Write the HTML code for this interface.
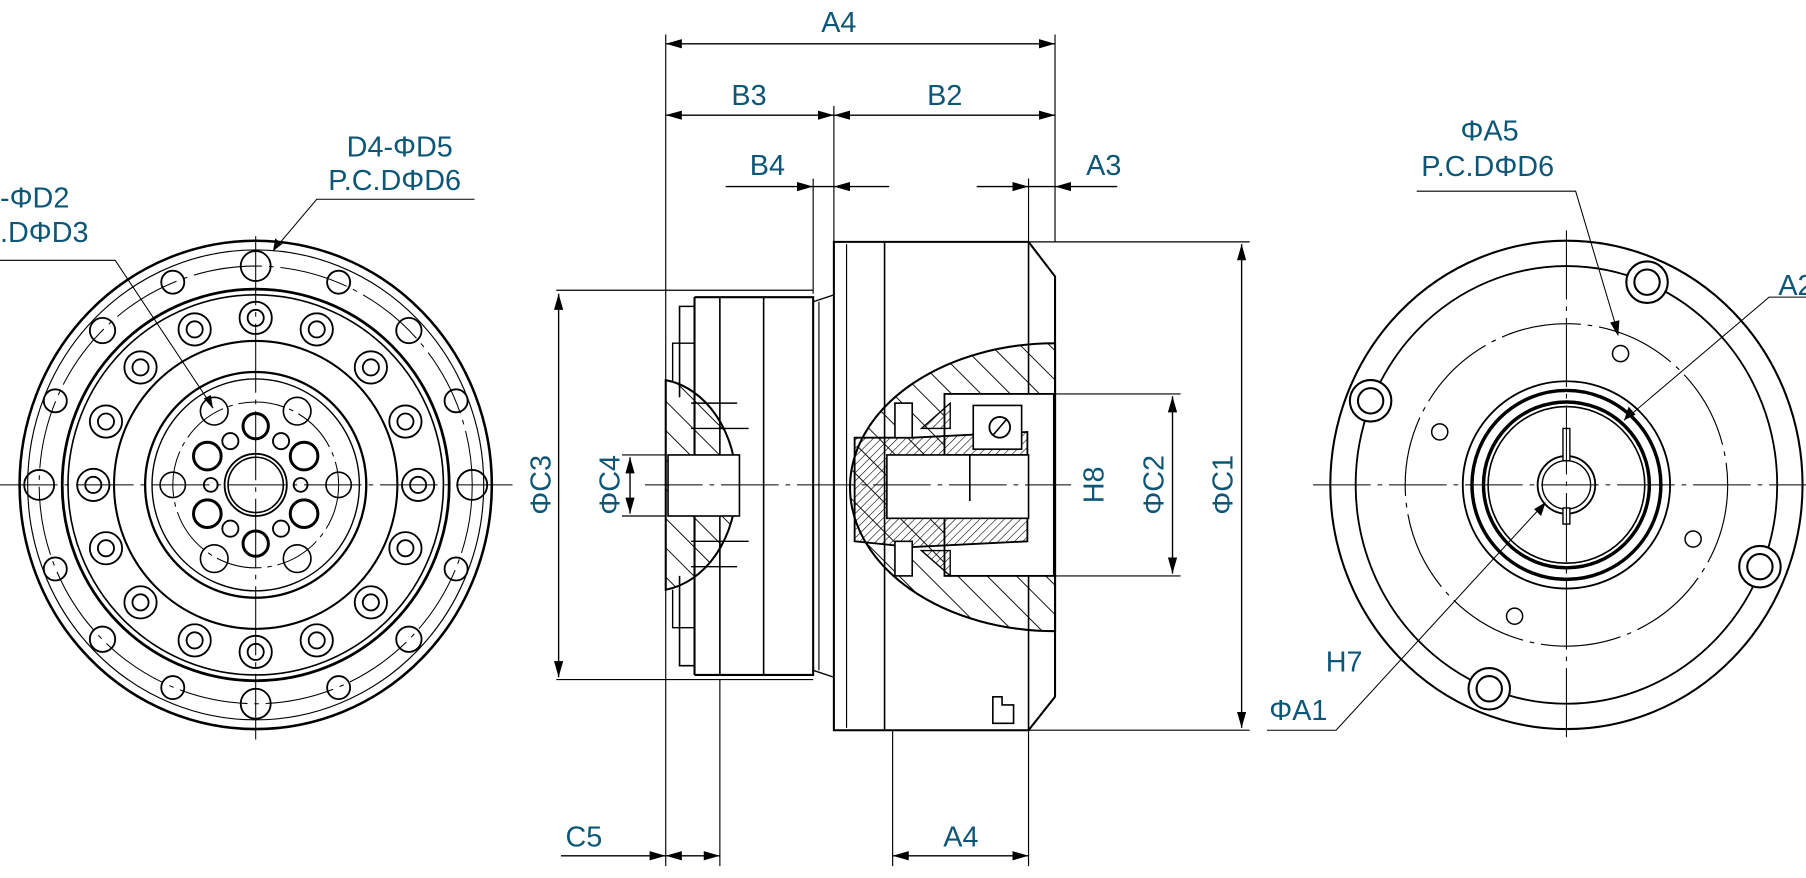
<!DOCTYPE html>
<html><head><meta charset="utf-8"><style>
html,body{margin:0;padding:0;background:#fff;}
svg{display:block}
text{font-family:"Liberation Sans Narrow","Liberation Sans",sans-serif;fill:#0e5676;font-size:25px;}
</style></head><body>
<svg width="1806" height="878" viewBox="0 0 1568 762.3" xmlns="http://www.w3.org/2000/svg">
<defs>
<marker id="ar" viewBox="0 0 10 10" refX="10" refY="5" markerWidth="14" markerHeight="8" markerUnits="userSpaceOnUse" orient="auto-start-reverse" preserveAspectRatio="none"><path d="M0,0L10,5L0,10z" fill="#000"/></marker>
<pattern id="h1" width="18" height="18" patternUnits="userSpaceOnUse" patternTransform="rotate(-45)"><line x1="0" y1="0" x2="0" y2="18" stroke="#000" stroke-width="1.6"/></pattern>
<pattern id="h2" width="5" height="5" patternUnits="userSpaceOnUse" patternTransform="rotate(45)"><line x1="0" y1="0" x2="0" y2="5" stroke="#000" stroke-width="1"/></pattern>
</defs>
<rect width="1568" height="762.3" fill="#fff"/>

<!-- ============ LEFT VIEW ============ -->
<g fill="none" stroke="#000" stroke-width="1.6">
<ellipse cx="222" cy="421" rx="205" ry="212" stroke-width="2.2"/>
<ellipse cx="222" cy="421" rx="198" ry="204" stroke-width="1"/>
<ellipse cx="222" cy="421" rx="188" ry="190" stroke-width="0.9" stroke-dasharray="60 6 4 6"/>
<ellipse cx="222" cy="421" rx="168" ry="170" stroke-width="2.4"/>
<ellipse cx="222" cy="421" rx="163" ry="165" stroke-width="1.4"/>
<ellipse cx="222" cy="421" rx="123" ry="125" stroke-width="1.8"/>
<ellipse cx="222" cy="421" rx="96" ry="98" stroke-width="2"/>
<ellipse cx="222" cy="421" rx="90" ry="92" stroke-width="1.2"/>
<ellipse cx="222" cy="421" rx="72" ry="72" stroke-width="0.9" stroke-dasharray="40 5 4 5"/>
<g stroke-width="1.6">
<circle cx="410" cy="421" r="13"/><circle cx="396" cy="494" r="10"/><circle cx="355" cy="555" r="11"/><circle cx="294" cy="597" r="10"/>
<circle cx="222" cy="611" r="13"/><circle cx="150" cy="597" r="10"/><circle cx="89" cy="555" r="11"/><circle cx="48" cy="494" r="10"/>
<circle cx="34" cy="421" r="13"/><circle cx="48" cy="348" r="10"/><circle cx="89" cy="287" r="11"/><circle cx="150" cy="245" r="10"/>
<circle cx="222" cy="231" r="13"/><circle cx="294" cy="245" r="10"/><circle cx="355" cy="287" r="11"/><circle cx="396" cy="348" r="10"/>
</g>
<g stroke-width="1.6">
<circle cx="363" cy="421" r="14"/><circle cx="363" cy="421" r="7"/>
<circle cx="352" cy="476" r="14"/><circle cx="352" cy="476" r="7"/>
<circle cx="322" cy="523" r="14"/><circle cx="322" cy="523" r="7"/>
<circle cx="275" cy="556" r="14"/><circle cx="275" cy="556" r="7"/>
<circle cx="222" cy="566" r="14"/><circle cx="222" cy="566" r="7"/>
<circle cx="169" cy="556" r="14"/><circle cx="169" cy="556" r="7"/>
<circle cx="122" cy="523" r="14"/><circle cx="122" cy="523" r="7"/>
<circle cx="92" cy="476" r="14"/><circle cx="92" cy="476" r="7"/>
<circle cx="81" cy="421" r="14"/><circle cx="81" cy="421" r="7"/>
<circle cx="92" cy="366" r="14"/><circle cx="92" cy="366" r="7"/>
<circle cx="122" cy="319" r="14"/><circle cx="122" cy="319" r="7"/>
<circle cx="169" cy="286" r="14"/><circle cx="169" cy="286" r="7"/>
<circle cx="222" cy="276" r="14"/><circle cx="222" cy="276" r="7"/>
<circle cx="275" cy="286" r="14"/><circle cx="275" cy="286" r="7"/>
<circle cx="322" cy="319" r="14"/><circle cx="322" cy="319" r="7"/>
<circle cx="352" cy="366" r="14"/><circle cx="352" cy="366" r="7"/>
</g>
<g stroke-width="1.4">
<circle cx="186" cy="357" r="12"/><circle cx="258" cy="357" r="12"/><circle cx="186" cy="485" r="12"/><circle cx="258" cy="485" r="12"/>
<circle cx="150" cy="421" r="11"/><circle cx="294" cy="421" r="11"/>
</g>
<g stroke-width="2.6">
<circle cx="222" cy="370" r="11"/><circle cx="222" cy="472" r="11"/>
<circle cx="180" cy="396" r="12"/><circle cx="264" cy="396" r="12"/><circle cx="180" cy="446" r="12"/><circle cx="264" cy="446" r="12"/>
</g>
<g stroke-width="1.6">
<circle cx="200" cy="383" r="7"/><circle cx="244" cy="383" r="7"/><circle cx="200" cy="459" r="7"/><circle cx="244" cy="459" r="7"/>
<circle cx="183" cy="421" r="6"/><circle cx="261" cy="421" r="6"/>
</g>
<circle cx="222" cy="421" r="27" stroke-width="1.6"/>
<circle cx="222" cy="421" r="24" stroke-width="1.4"/>
</g>
<g stroke="#000" stroke-width="0.9" fill="none">
<line x1="0" y1="421" x2="445" y2="421" stroke-dasharray="50 6 4 6"/>
<line x1="222" y1="205" x2="222" y2="642" stroke-dasharray="60 6 4 6"/>
<polyline points="412,173 275,173 237,218"/>
<polyline points="0,226 100,226 185,354"/>
</g>
<path d="M237,218 l2,-11 l6,5 z" fill="#000"/>
<path d="M185,355 l-8,-9 l6,-3 z" fill="#000"/>
<text x="301" y="136">D4-ΦD5</text>
<text x="285" y="165">P.C.DΦD6</text>
<text x="0" y="180">-ΦD2</text>
<text x="0" y="210">.DΦD3</text>

<!-- ============ MIDDLE VIEW ============ -->
<g stroke="#000" stroke-width="1" fill="none">
<line x1="578" y1="30" x2="578" y2="752"/>
<line x1="916" y1="30" x2="916" y2="210"/>
<line x1="724" y1="92" x2="724" y2="210"/>
<line x1="706" y1="155" x2="706" y2="255"/>
<line x1="893" y1="155" x2="893" y2="210"/>
<line x1="625" y1="590" x2="625" y2="752"/>
<line x1="775" y1="634" x2="775" y2="752"/>
<line x1="893" y1="634" x2="893" y2="752"/>
<line x1="483" y1="252" x2="706" y2="252"/>
<line x1="483" y1="590" x2="706" y2="590"/>
<line x1="893" y1="210" x2="1085" y2="210"/>
<line x1="893" y1="634" x2="1085" y2="634"/>
<line x1="916" y1="342" x2="1025" y2="342"/>
<line x1="916" y1="500" x2="1025" y2="500"/>
<line x1="540" y1="395" x2="578" y2="395"/>
<line x1="540" y1="448" x2="578" y2="448"/>
</g>
<g stroke="#000" stroke-width="1.2" fill="none">
<line x1="578" y1="38" x2="916" y2="38" marker-start="url(#ar)" marker-end="url(#ar)"/>
<line x1="578" y1="100" x2="724" y2="100" marker-start="url(#ar)" marker-end="url(#ar)"/>
<line x1="724" y1="100" x2="916" y2="100" marker-start="url(#ar)" marker-end="url(#ar)"/>
<line x1="630" y1="162" x2="706" y2="162" marker-end="url(#ar)"/>
<line x1="706" y1="162" x2="724" y2="162"/>
<line x1="772" y1="162" x2="724" y2="162" marker-end="url(#ar)"/>
<line x1="848" y1="162" x2="893" y2="162" marker-end="url(#ar)"/>
<line x1="893" y1="162" x2="916" y2="162"/>
<line x1="970" y1="162" x2="916" y2="162" marker-end="url(#ar)"/>
<line x1="485" y1="255" x2="485" y2="588" marker-start="url(#ar)" marker-end="url(#ar)"/>
<line x1="547" y1="397" x2="547" y2="446" marker-start="url(#ar)" marker-end="url(#ar)"/>
<line x1="1018" y1="344" x2="1018" y2="498" marker-start="url(#ar)" marker-end="url(#ar)"/>
<line x1="1078" y1="212" x2="1078" y2="632" marker-start="url(#ar)" marker-end="url(#ar)"/>
<line x1="487" y1="743" x2="578" y2="743" marker-end="url(#ar)"/>
<line x1="578" y1="743" x2="625" y2="743" marker-start="url(#ar)" marker-end="url(#ar)"/>
<line x1="775" y1="743" x2="893" y2="743" marker-start="url(#ar)" marker-end="url(#ar)"/>
</g>

<g stroke="#000" stroke-width="1.8" fill="none">
<path d="M603,258 L706,258 L706,586 L603,586"/>
<line x1="603" y1="258" x2="603" y2="586"/>
<line x1="625" y1="258" x2="625" y2="586" stroke-width="1.4"/>
<line x1="663" y1="258" x2="663" y2="586" stroke-width="1.4"/>
<path d="M706,262 L724,256 M706,582 L724,588" stroke-width="1.2"/>
<line x1="711" y1="262" x2="711" y2="582" stroke-width="1"/>
<path d="M603,266 L590,266 L590,345 M590,500 L590,578 L603,578" stroke-width="1.4"/>
<path d="M603,298 L584,298 L584,332 M584,512 L584,545 L603,545" stroke-width="1.2"/>
<path d="M724,210 L893,210 L916,240 L916,605 L893,634 L724,634 Z"/>
<line x1="768" y1="210" x2="768" y2="634" stroke-width="1.4"/>
<line x1="735" y1="212" x2="735" y2="632" stroke-width="1"/>
<line x1="893" y1="210" x2="893" y2="634" stroke-width="1.4"/>
<path d="M862,605 L870,605 L870,612 L880,612 L880,628 L862,628 Z" stroke-width="1.4"/>
</g>
<path d="M578,330 A72,92 0 0 1 578,512 Z" fill="url(#h1)" stroke="#000" stroke-width="1.8"/>
<rect x="580" y="395" width="62" height="53" fill="#fff" stroke="#000" stroke-width="1.4"/>
<path d="M600,350 L640,350 M600,372 L650,372 M600,470 L650,470 M600,492 L640,492" stroke="#000" stroke-width="1.2"/>
<path d="M916,298 A178,125 0 0 0 916,548 Z" fill="url(#h1)" stroke="#000" stroke-width="1.8"/>
<rect x="820" y="342" width="95" height="158" fill="#fff" stroke="#000" stroke-width="1.6"/>
<path d="M792,380 L892,375 L892,395 L820,395 L790,400 L770,445 L892,445 L892,470 L792,475 L742,470 L742,380 Z" fill="url(#h2)" stroke="#000" stroke-width="1.6"/>
<path d="M770,395 L893,395 L893,450 L770,450 Z" fill="#fff" stroke="#000" stroke-width="1.4"/>
<path d="M800,372 L825,350 L825,372 Z M800,478 L825,500 L825,478 Z" fill="url(#h2)" stroke="#000" stroke-width="1.2"/>
<rect x="777" y="350" width="15" height="30" fill="#fff" stroke="#000" stroke-width="1.4"/>
<rect x="777" y="470" width="15" height="30" fill="#fff" stroke="#000" stroke-width="1.4"/>
<rect x="845" y="352" width="42" height="38" fill="#fff" stroke="#000" stroke-width="1.4"/>
<circle cx="868" cy="371" r="9" fill="none" stroke="#000" stroke-width="1.6"/>
<line x1="862" y1="378" x2="874" y2="364" stroke="#000" stroke-width="1.4"/>
<line x1="842" y1="395" x2="842" y2="435" stroke="#000" stroke-width="1.4"/>
<line x1="560" y1="421" x2="930" y2="421" stroke="#000" stroke-width="0.9" stroke-dasharray="50 6 4 6"/>

<text x="713" y="28">A4</text>
<text x="635" y="91">B3</text>
<text x="805" y="91">B2</text>
<text x="651" y="152">B4</text>
<text x="943" y="152">A3</text>
<text x="491" y="735">C5</text>
<text x="819" y="735">A4</text>
<text transform="translate(478,421) rotate(-90)" text-anchor="middle">ΦC3</text>
<text transform="translate(538,421) rotate(-90)" text-anchor="middle">ΦC4</text>
<text transform="translate(958,421) rotate(-90)" text-anchor="middle">H8</text>
<text transform="translate(1010,421) rotate(-90)" text-anchor="middle">ΦC2</text>
<text transform="translate(1070,421) rotate(-90)" text-anchor="middle">ΦC1</text>

<!-- ============ RIGHT VIEW ============ -->
<g fill="none" stroke="#000" stroke-width="1.8">
<ellipse cx="1360" cy="421" rx="205" ry="212"/>
<ellipse cx="1360" cy="421" rx="183" ry="190" stroke-width="1.6"/>
<ellipse cx="1360" cy="421" rx="140" ry="140" stroke-width="1" stroke-dasharray="70 6 4 6"/>
<ellipse cx="1360" cy="421" rx="90" ry="90" stroke-width="1.6"/>
<ellipse cx="1360" cy="421" rx="82" ry="82" stroke-width="3"/>
<ellipse cx="1360" cy="421" rx="72" ry="72" stroke-width="3"/>
<ellipse cx="1360" cy="421" rx="68" ry="68" stroke-width="1.4"/>
<circle cx="1360" cy="421" r="25" stroke-width="1.6"/>
<circle cx="1360" cy="421" r="21" stroke-width="1.2"/>
<rect x="1357" y="372" width="6" height="28" stroke-width="1.2" fill="#fff"/>
<rect x="1357" y="441" width="6" height="14" stroke-width="1.2" fill="#fff"/>
<g fill="#fff">
<circle cx="1430" cy="245" r="18"/><circle cx="1430" cy="245" r="11"/>
<circle cx="1190" cy="348" r="18"/><circle cx="1190" cy="348" r="11"/>
<circle cx="1528" cy="492" r="18"/><circle cx="1528" cy="492" r="11"/>
<circle cx="1293" cy="598" r="18"/><circle cx="1293" cy="598" r="11"/>
</g>
<g stroke-width="1.3">
<circle cx="1407" cy="307" r="7"/><circle cx="1250" cy="375" r="7"/><circle cx="1470" cy="468" r="7"/><circle cx="1315" cy="535" r="7"/>
</g>
</g>
<g stroke="#000" stroke-width="0.9" fill="none">
<line x1="1140" y1="421" x2="1568" y2="421" stroke-dasharray="50 6 4 6"/>
<line x1="1360" y1="200" x2="1360" y2="645" stroke-dasharray="60 6 4 6"/>
<polyline points="1230,166 1368,166 1405,290"/>
<polyline points="1568,258 1536,258 1410,365"/>
<polyline points="1100,634 1160,634 1340,438"/>
</g>
<path d="M1405,292 l-7,-12 l8,-2 z" fill="#000"/>
<path d="M1410,365 l4,-12 l6,7 z" fill="#000"/>
<path d="M1342,436 l-4,12 l-6,-6 z" fill="#000"/>
<text x="1268" y="122">ΦA5</text>
<text x="1234" y="153">P.C.DΦD6</text>
<text x="1544" y="256">A2</text>
<text x="1151" y="583">H7</text>
<text x="1102" y="625">ΦA1</text>
</svg>
</body></html>
